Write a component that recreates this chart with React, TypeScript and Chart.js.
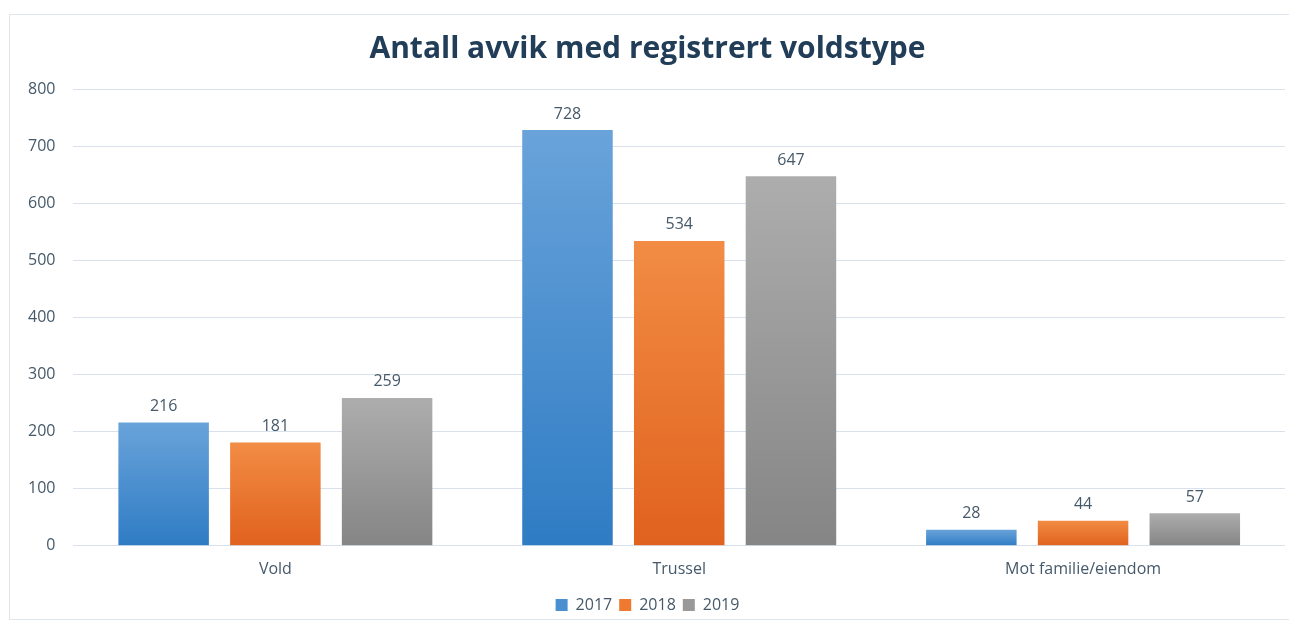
import React, { useEffect, useRef } from "react";
import { Chart, registerables } from "chart.js";

Chart.register(...registerables);

const categories = ["Vold", "Trussel", "Mot familie/eiendom"];
const years = ["2017", "2018", "2019"];
const values2017 = [216, 728, 28];
const values2018 = [181, 534, 44];
const values2019 = [259, 647, 57];
const yTicks = [0, 100, 200, 300, 400, 500, 600, 700, 800];

const palette = [
  { top: "#69a3da", bottom: "#2f7cc4", solid: "#4a8fd0" },
  { top: "#f28c44", bottom: "#e0621e", solid: "#ed7a2f" },
  { top: "#adadad", bottom: "#858585", solid: "#999999" },
];

const FONT = "'Open Sans', sans-serif";
const TEXT = "#45596a";

const dataLabels = {
  id: "dataLabels",
  afterDatasetsDraw(chart: any) {
    const ctx = chart.ctx;
    ctx.save();
    ctx.font = `16px ${FONT}`;
    ctx.fillStyle = TEXT;
    ctx.textAlign = "center";
    ctx.textBaseline = "bottom";
    chart.data.datasets.forEach((ds: any, i: number) => {
      const meta = chart.getDatasetMeta(i);
      meta.data.forEach((bar: any, j: number) => {
        ctx.fillText(String(ds.data[j]), bar.x, bar.y - 8);
      });
    });
    ctx.restore();
  },
};

export default function App() {
  const ref = useRef<HTMLCanvasElement | null>(null);
  useEffect(() => {
    if (!ref.current) return;
    const series = [values2017, values2018, values2019];
    const chart = new Chart(ref.current, {
      type: "bar",
      data: {
        labels: categories,
        datasets: series.map((vals, i) => ({
          label: years[i],
          data: vals,
          backgroundColor: (c: any) => {
            const ch = c.chart;
            const area = ch.chartArea;
            if (!area || c.raw === undefined) return palette[i].solid;
            const y = ch.scales.y.getPixelForValue(c.raw);
            const base = ch.scales.y.getPixelForValue(0);
            if (Math.abs(base - y) < 1) return palette[i].solid;
            const g = ch.ctx.createLinearGradient(0, y, 0, base);
            g.addColorStop(0, palette[i].top);
            g.addColorStop(1, palette[i].bottom);
            return g;
          },
          borderWidth: 0,
          categoryPercentage: 0.83,
          barPercentage: 0.81,
        })),
      },
      options: {
        animation: false,
        responsive: false,
        maintainAspectRatio: false,
        layout: { padding: { left: 0, right: 4, top: 3, bottom: -4 } },
        plugins: {
          title: {
            display: true,
            text: "Antall avvik med registrert voldstype",
            color: "#213d58",
            font: { family: FONT, size: 30, weight: "bold" },
            padding: { top: 13, bottom: 22 },
          },
          legend: {
            position: "bottom",
            labels: {
              color: TEXT,
              font: { family: FONT, size: 16 },
              boxWidth: 12,
              boxHeight: 12,
              padding: 7,
              generateLabels: (ch: any) =>
                ch.data.datasets.map((ds: any, i: number) => ({
                  text: ds.label,
                  fillStyle: palette[i].solid,
                  strokeStyle: palette[i].solid,
                  lineWidth: 0,
                  datasetIndex: i,
                  fontColor: TEXT,
                })),
            },
          },
          tooltip: { enabled: false },
        },
        scales: {
          x: {
            grid: { display: false },
            border: { display: false },
            ticks: { color: TEXT, font: { family: FONT, size: 16 }, padding: 6 },
            afterFit: (axis: any) => {
              axis.height += 5;
            },
          },
          y: {
            min: 0,
            max: 800,
            afterBuildTicks: (axis: any) => {
              axis.ticks = yTicks.map((v) => ({ value: v }));
            },
            grid: { color: "#d9e2ec", lineWidth: 1, drawTicks: false },
            border: { display: false },
            ticks: { color: TEXT, font: { family: FONT, size: 16 }, padding: 18 },
          },
        },
      },
      plugins: [dataLabels],
    });
    return () => chart.destroy();
  }, []);
  return (
    <div
      style={{
        marginTop: 6,
        marginLeft: 1,
        width: 1281,
        height: 606,
        border: "1px solid #dfe5ec",
        boxSizing: "border-box",
        background: "#fff",
      }}
    >
      <canvas ref={ref} width={1279} height={604} style={{ display: "block" }} />
    </div>
  );
}
